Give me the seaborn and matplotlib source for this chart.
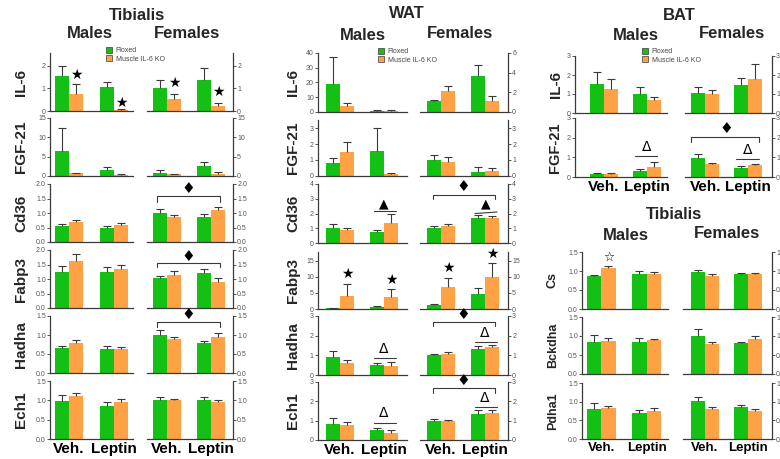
import numpy as np
import pandas as pd
import matplotlib
matplotlib.use("Agg")
import matplotlib.pyplot as plt
import seaborn as sns
from matplotlib.patches import Patch
from matplotlib.ticker import FormatStrFormatter

# ---------------------------------------------------------------- data
treatments = ["Veh.", "Leptin"]
genotypes = ["Floxed", "Muscle IL-6 KO"]
sexes = ["Males", "Females"]

# order in every list: Males (Veh Flox, Veh KO, Leptin Flox, Leptin KO),
#                      Females (Veh Flox, Veh KO, Leptin Flox, Leptin KO)
tib_il6 = [1.55, 0.75, 1.05, 0.06, 1.00, 0.51, 1.37, 0.22]
tib_il6_sem = [0.45, 0.42, 0.22, 0.02, 0.38, 0.25, 0.50, 0.12]
tib_fgf21 = [6.5, 0.7, 1.5, 0.35, 0.9, 0.4, 2.5, 0.6]
tib_fgf21_sem = [6.0, 0.1, 0.9, 0.1, 0.6, 0.15, 1.2, 0.35]
tib_cd36 = [0.56, 0.70, 0.50, 0.59, 1.01, 0.87, 0.86, 1.10]
tib_cd36_sem = [0.06, 0.05, 0.05, 0.05, 0.13, 0.06, 0.12, 0.12]
tib_fabp3 = [1.23, 1.63, 1.23, 1.34, 1.03, 1.13, 1.20, 0.90]
tib_fabp3_sem = [0.21, 0.22, 0.19, 0.16, 0.09, 0.16, 0.15, 0.13]
tib_hadha = [0.65, 0.80, 0.63, 0.64, 1.00, 0.89, 0.80, 0.95]
tib_hadha_sem = [0.07, 0.07, 0.09, 0.05, 0.12, 0.07, 0.05, 0.10]
tib_ech1 = [0.98, 1.10, 0.85, 0.96, 1.00, 1.00, 1.01, 0.95]
tib_ech1_sem = [0.15, 0.08, 0.10, 0.07, 0.08, 0.04, 0.07, 0.07]

wat_il6 = [19.0, 4.0, 1.0, 0.9, 1.1, 2.1, 3.7, 1.08]
wat_il6_sem = [18.5, 2.0, 0.4, 0.5, 0.15, 0.55, 1.05, 0.55]
wat_fgf21 = [0.82, 1.5, 1.55, 0.12, 1.0, 0.87, 0.26, 0.3]
wat_fgf21_sem = [0.33, 0.65, 1.45, 0.04, 0.33, 0.33, 0.3, 0.18]
wat_cd36 = [1.0, 0.86, 0.77, 1.34, 1.0, 1.16, 1.72, 1.72]
wat_cd36_sem = [0.28, 0.14, 0.14, 0.6, 0.15, 0.15, 0.17, 0.1]
wat_fabp3 = [0.2, 4.1, 0.5, 3.9, 1.2, 6.8, 4.8, 9.9]
wat_fabp3_sem = [0.1, 3.6, 0.45, 2.5, 0.45, 2.8, 1.9, 4.6]
wat_hadha = [0.9, 0.61, 0.51, 0.47, 1.0, 1.08, 1.32, 1.4]
wat_hadha_sem = [0.34, 0.15, 0.12, 0.2, 0.07, 0.07, 0.18, 0.15]
wat_ech1 = [0.85, 0.78, 0.52, 0.38, 1.0, 1.0, 1.36, 1.38]
wat_ech1_sem = [0.27, 0.17, 0.1, 0.14, 0.08, 0.06, 0.17, 0.15]

bat_il6 = [1.52, 1.25, 1.0, 0.66, 1.05, 0.98, 1.45, 1.8]
bat_il6_sem = [0.65, 0.55, 0.35, 0.2, 0.3, 0.22, 0.38, 0.78]
bat_fgf21 = [0.16, 0.17, 0.31, 0.51, 0.96, 0.65, 0.48, 0.6]
bat_fgf21_sem = [0.04, 0.05, 0.12, 0.26, 0.19, 0.07, 0.08, 0.08]

tib_cs = [0.88, 1.07, 0.92, 0.93, 0.98, 0.88, 0.93, 0.92]
tib_cs_sem = [0.02, 0.07, 0.09, 0.05, 0.04, 0.03, 0.03, 0.04]
tib_bckdha = [0.83, 0.87, 0.85, 0.89, 1.0, 0.79, 0.81, 0.93]
tib_bckdha_sem = [0.2, 0.07, 0.09, 0.03, 0.19, 0.04, 0.03, 0.07]
tib_pdha1 = [0.8, 0.84, 0.69, 0.76, 1.02, 0.81, 0.85, 0.76]
tib_pdha1_sem = [0.16, 0.05, 0.09, 0.06, 0.11, 0.04, 0.07, 0.05]

# ---------------------------------------------------------------- style
sns.set_style("ticks")
plt.rcParams["font.family"] = ["Liberation Sans", "DejaVu Sans"]
GREEN = "#14C014"
ORANGE = "#FFA245"
INK = "#3a3a3a"
TICK = "#555555"

W, H = 780, 459
fig = plt.figure(figsize=(W / 100, H / 100), dpi=100)


def axes_px(x0, x1, y0, y1):
    return fig.add_axes([x0 / W, 1 - y1 / H, (x1 - x0) / W, (y1 - y0) / H])


# horizontal extent (pixels) and x-limits of each block
COLS = {
    "tib": {"Males": ((50, 133), (-0.42, 1.42)), "Females": ((147, 233), (-0.45, 1.50))},
    "wat": {"Males": ((318, 407), (-0.50, 1.52)), "Females": ((420, 508), (-0.48, 1.52))},
    "bat": {"Males": ((575, 667), (-0.67, 1.47)), "Females": ((685, 772), (-0.47, 1.56))},
    "tib2": {"Males": ((582, 668), (-0.42, 1.47)), "Females": ((683, 772), (-0.51, 1.56))},
}


def draw_bars(ax, vals, errs):
    df = pd.DataFrame({
        "treatment": np.repeat(treatments, 2),
        "genotype": genotypes * 2,
        "value": vals,
    })
    sns.barplot(data=df, x="treatment", y="value", hue="genotype",
                order=treatments, hue_order=genotypes,
                palette=[GREEN, ORANGE], saturation=1, width=0.64,
                errorbar=None, legend=False, linewidth=0, ax=ax)
    bar_sets = list(ax.containers)
    for gi, cont in enumerate(bar_sets):
        xs = np.array([b.get_x() + b.get_width() / 2 for b in cont])
        ys = np.array([b.get_height() for b in cont])
        es = np.array([errs[ti * 2 + gi] for ti in range(len(treatments))])
        eb = ax.errorbar(xs, ys, yerr=[np.zeros_like(es), es], fmt="none",
                         ecolor=INK, elinewidth=0.8, capsize=3, capthick=0.8,
                         zorder=3)
        for cl in eb[1]:
            if np.allclose(cl.get_ydata(), ys):
                cl.set_visible(False)


def panel(col, sex, rows, vals, errs, ylim, yticks, fmt, show_x, xsize):
    (x0, x1), xlim = COLS[col][sex]
    ax = axes_px(x0, x1, rows[0], rows[1])
    draw_bars(ax, vals, errs)
    ax.set_xlim(*xlim)
    ax.set_ylim(0, ylim)
    ax.set_yticks(yticks)
    ax.yaxis.set_major_formatter(FormatStrFormatter(fmt))
    ax.set_xlabel("")
    ax.set_ylabel("")
    ax.set_facecolor("none")
    ax.spines["top"].set_visible(False)
    if sex == "Males":
        ax.spines["right"].set_visible(False)
    else:
        ax.spines["left"].set_visible(False)
        ax.yaxis.tick_right()
    for s in ax.spines.values():
        s.set_color(INK)
        s.set_linewidth(0.9)
    ax.tick_params(axis="y", labelsize=5, length=2, width=0.6, pad=1,
                   color=INK, labelcolor=TICK)
    if show_x:
        ax.tick_params(axis="x", length=0, labelsize=xsize, pad=2, labelcolor="black")
        for lbl in ax.get_xticklabels():
            lbl.set_fontweight("bold")
    else:
        ax.tick_params(axis="x", length=0, labelbottom=False)
    return ax


def pair(col, rows, label, vals, errs, ylims, ticks, fmt, show_x=False,
         label_x=None, label_size=11, xsize=11):
    axm = panel(col, "Males", rows, vals[:4], errs[:4], ylims[0], ticks[0], fmt,
                show_x, xsize)
    axf = panel(col, "Females", rows, vals[4:], errs[4:], ylims[1], ticks[1], fmt,
                show_x, xsize)
    fig.text(label_x / W, 1 - (rows[0] + rows[1]) / 2 / H, label, rotation=90,
             ha="center", va="center", fontsize=label_size, fontweight="bold",
             family=["Liberation Sans Narrow", "Liberation Sans", "DejaVu Sans"])
    return axm, axf


def mark(ax, x, y, sym, size=10):
    ax.text(x, y, sym, ha="center", va="center", fontsize=size, color="black",
            clip_on=False, family=["DejaVu Sans"], zorder=5)


def bracket(ax, xa, xb, ytop, yend):
    ax.plot([xa, xa, xb, xb], [yend, ytop, ytop, yend], color=INK, lw=0.8,
            clip_on=False, zorder=5)


def bar_line(ax, xa, xb, y):
    ax.plot([xa, xb], [y, y], color=INK, lw=0.8, clip_on=False, zorder=5)


def heading(x, y, text, size=12):
    fig.text(x / W, 1 - y / H, text, ha="center", va="center",
             fontsize=size, fontweight="bold")


def legend_at(x, y):
    handles = [Patch(facecolor=GREEN, edgecolor=INK, linewidth=0.5),
               Patch(facecolor=ORANGE, edgecolor=INK, linewidth=0.5)]
    fig.legend(handles, genotypes, loc="upper left",
               bbox_to_anchor=(x / W, 1 - y / H), fontsize=5, frameon=False,
               handlelength=0.9, handleheight=0.9, handletextpad=0.5,
               labelspacing=0.15, borderpad=0, borderaxespad=0,
               labelcolor="#444444")


STAR, OSTAR, TRI, DELTA, DIAM = "\u2605", "\u2606", "\u25B2", "\u0394", "\u2666"
KO_OFF = 0.16  # offset of the KO bar from its group centre

# ---------------------------------------------------------------- Tibialis
heading(137, 15, "Tibialis")
heading(90, 34, "Males")
heading(187, 33, "Females")
legend_at(106, 47)

m, f = pair("tib", (53, 111), "IL-6", tib_il6, tib_il6_sem, (2.55, 2.55),
            ([0, 1, 2], [0, 1, 2]), "%d", label_x=21)
mark(m, 0 + KO_OFF, 1.60, STAR)
mark(m, 1 + KO_OFF, 0.36, STAR)
mark(f, 0 + KO_OFF, 1.24, STAR)
mark(f, 1 + KO_OFF, 0.85, STAR)

pair("tib", (118, 176), "FGF-21", tib_fgf21, tib_fgf21_sem, (15, 15),
     ([0, 5, 10, 15], [0, 5, 10, 15]), "%d", label_x=21)

m, f = pair("tib", (184, 242), "Cd36", tib_cd36, tib_cd36_sem, (2, 2),
            ([0, 0.5, 1, 1.5, 2], [0, 0.5, 1, 1.5, 2]), "%.1f", label_x=21)
bracket(f, -0.23, 1.20, 1.57, 1.38)
mark(f, 0.48, 1.83, DIAM, 11)

m, f = pair("tib", (250, 308), "Fabp3", tib_fabp3, tib_fabp3_sem, (2, 2),
            ([0, 0.5, 1, 1.5, 2], [0, 0.5, 1, 1.5, 2]), "%.1f", label_x=21)
bracket(f, -0.23, 1.20, 1.54, 1.41)
mark(f, 0.48, 1.79, DIAM, 11)

m, f = pair("tib", (316, 373), "Hadha", tib_hadha, tib_hadha_sem, (1.5, 1.5),
            ([0, 0.5, 1, 1.5], [0, 0.5, 1, 1.5]), "%.1f", label_x=21)
bracket(f, -0.23, 1.20, 1.35, 1.22)
mark(f, 0.48, 1.55, DIAM, 11)

pair("tib", (381, 439), "Ech1", tib_ech1, tib_ech1_sem, (1.5, 1.5),
     ([0, 0.5, 1, 1.5], [0, 0.5, 1, 1.5]), "%.1f", show_x=True, label_x=21)

# ---------------------------------------------------------------- WAT
heading(407, 14, "WAT")
heading(363, 35, "Males")
heading(460, 33, "Females")
legend_at(378, 48)

pair("wat", (53, 112), "IL-6", wat_il6, wat_il6_sem, (40, 6),
     ([0, 10, 20, 30, 40], [0, 2, 4, 6]), "%d", label_x=293)

pair("wat", (120, 176), "FGF-21", wat_fgf21, wat_fgf21_sem, (3.5, 3.5),
     ([0, 1, 2, 3], [0, 1, 2, 3]), "%d", label_x=293)

m, f = pair("wat", (184, 243), "Cd36", wat_cd36, wat_cd36_sem, (4, 4),
            ([0, 1, 2, 3, 4], [0, 1, 2, 3, 4]), "%d", label_x=293)
bar_line(m, 0.77, 1.27, 2.16)
mark(m, 1.0, 2.68, TRI, 9)
bracket(f, -0.18, 1.23, 3.25, 2.95)
mark(f, 0.50, 3.82, DIAM, 11)
f.plot([0.77, 1.27], [2.0, 2.1], color=INK, lw=0.8, clip_on=False, zorder=5)
mark(f, 1.02, 2.66, TRI, 9)

m, f = pair("wat", (252, 309), "Fabp3", wat_fabp3, wat_fabp3_sem, (17.8, 17.8),
            ([0, 5, 10, 15], [0, 5, 10, 15]), "%d", label_x=293)
mark(m, 0 + KO_OFF, 10.9, STAR)
mark(m, 1 + KO_OFF, 9.0, STAR)
mark(f, 0 + KO_OFF, 12.7, STAR)
mark(f, 1 + KO_OFF, 17.2, STAR)

m, f = pair("wat", (316, 375), "Hadha", wat_hadha, wat_hadha_sem, (3, 3),
            ([0, 1, 2, 3], [0, 1, 2, 3]), "%d", label_x=293)
bar_line(m, 0.77, 1.27, 0.86)
mark(m, 1.0, 1.30, DELTA, 10)
bar_line(f, 0.77, 1.27, 1.70)
mark(f, 1.0, 2.12, DELTA, 10)
bracket(f, -0.18, 1.23, 2.70, 2.50)
mark(f, 0.50, 3.10, DIAM, 11)

m, f = pair("wat", (382, 440), "Ech1", wat_ech1, wat_ech1_sem, (3, 3),
            ([0, 1, 2, 3], [0, 1, 2, 3]), "%d", show_x=True, label_x=293)
bar_line(m, 0.77, 1.27, 0.86)
mark(m, 1.0, 1.38, DELTA, 10)
bar_line(f, 0.77, 1.27, 1.72)
mark(f, 1.0, 2.19, DELTA, 10)
bracket(f, -0.18, 1.23, 2.67, 2.45)
mark(f, 0.50, 3.10, DIAM, 11)

# ---------------------------------------------------------------- BAT
heading(679, 15, "BAT")
heading(636, 35, "Males")
heading(732, 34, "Females")
legend_at(642, 48)

pair("bat", (56, 113), "IL-6", bat_il6, bat_il6_sem, (3, 3),
     ([0, 1, 2, 3], [0, 1, 2, 3]), "%d", label_x=556)

m, f = pair("bat", (118, 177), "FGF-21", bat_fgf21, bat_fgf21_sem, (3, 3),
            ([0, 1, 2, 3], [0, 1, 2, 3]), "%d", show_x=True, label_x=555,
            label_size=10.5)
bar_line(m, 0.72, 1.23, 1.05)
mark(m, 1.0, 1.54, DELTA, 10)
bar_line(f, 0.72, 1.25, 0.91)
mark(f, 1.0, 1.37, DELTA, 10)
bracket(f, -0.33, 1.26, 2.02, 1.77)
mark(f, 0.50, 2.49, DIAM, 11)

# ---------------------------------------------------------------- Tibialis (oxidative enzymes)
heading(674, 215, "Tibialis")
heading(626, 236, "Males")
heading(727, 234, "Females")

m, f = pair("tib2", (252, 309), "Cs", tib_cs, tib_cs_sem, (1.5, 1.5),
            ([0, 0.5, 1, 1.5], [0, 0.5, 1, 1.5]), "%.1f", label_x=553, label_size=9)
mark(m, 0 + KO_OFF, 1.37, OSTAR, 9)

pair("tib2", (317, 374), "Bckdha", tib_bckdha, tib_bckdha_sem, (1.5, 1.5),
     ([0, 0.5, 1, 1.5], [0, 0.5, 1, 1.5]), "%.1f", label_x=553, label_size=9)

pair("tib2", (383, 439), "Pdha1", tib_pdha1, tib_pdha1_sem, (1.5, 1.5),
     ([0, 0.5, 1, 1.5], [0, 0.5, 1, 1.5]), "%.1f", show_x=True, label_x=553,
     label_size=9, xsize=9.5)

fig.savefig("out.png", dpi=100, facecolor="white")
